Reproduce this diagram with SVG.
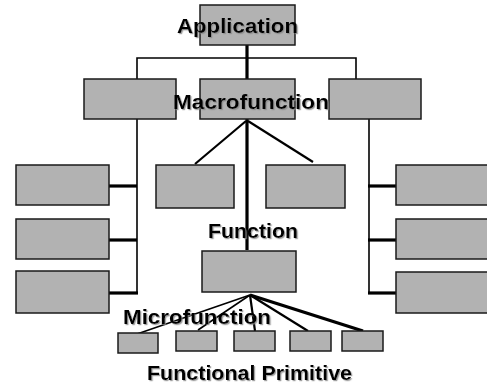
<svg xmlns="http://www.w3.org/2000/svg" width="487" height="385" viewBox="0 0 487 385">
<defs>
<filter id="sh" x="-10%" y="-30%" width="120%" height="160%">
<feDropShadow dx="1.2" dy="1.2" stdDeviation="0.6" flood-color="#888" flood-opacity="0.8"/>
</filter>
</defs>
<style>
rect{fill:#b2b2b2;stroke:#1a1a1a;stroke-width:1.5}
.thin{stroke:#000;stroke-width:1.6;fill:none}
.thick{stroke:#000;stroke-width:3.2;fill:none}
.med{stroke:#000;stroke-width:2.2;fill:none}
text{font-family:"Liberation Sans",Arial,sans-serif;font-weight:bold;font-size:21px;fill:#000;filter:url(#sh)}
</style>
<g id="connectors">
<line class="thick" x1="247" y1="45" x2="247" y2="79"/>
<polyline class="thin" points="137,79 137,58 356,58 356,79"/>
<line class="thin" x1="137" y1="119" x2="137" y2="293"/>
<line class="thin" x1="369" y1="119" x2="369" y2="293"/>
<line class="thick" x1="109" y1="186" x2="137" y2="186"/>
<line class="thick" x1="109" y1="240" x2="137" y2="240"/>
<line class="thick" x1="109" y1="293" x2="138" y2="293"/>
<line class="thick" x1="368" y1="186" x2="396" y2="186"/>
<line class="thick" x1="368" y1="240" x2="396" y2="240"/>
<line class="thick" x1="368" y1="293" x2="396" y2="293"/>
<line class="thick" x1="247" y1="119" x2="247" y2="250"/>
<line class="med" x1="246" y1="121" x2="195" y2="164"/>
<line class="med" x1="248" y1="121" x2="313" y2="162"/>
<line class="thin" x1="250" y1="295" x2="137" y2="334"/>
<line class="thin" x1="250" y1="295" x2="198" y2="330"/>
<line class="med" x1="250" y1="295" x2="255" y2="331"/>
<line class="med" x1="250" y1="295" x2="308" y2="331"/>
<line class="thick" x1="250" y1="295" x2="363" y2="331"/>
</g>
<g id="application"><rect x="200" y="5" width="95" height="40"/><text x="177" y="33" textLength="121" lengthAdjust="spacingAndGlyphs">Application</text></g>
<g id="macro-left"><rect x="84" y="79" width="92" height="40"/></g>
<g id="macro-mid"><rect x="200" y="79" width="95" height="40"/></g>
<g id="macro-right"><rect x="329" y="79" width="92" height="40"/></g>
<g id="left-1"><rect x="16" y="165" width="93" height="40"/></g>
<g id="left-2"><rect x="16" y="219" width="93" height="40"/></g>
<g id="left-3"><rect x="16" y="271" width="93" height="42"/></g>
<g id="right-1"><rect x="396" y="165" width="95" height="40"/></g>
<g id="right-2"><rect x="396" y="219" width="95" height="40"/></g>
<g id="right-3"><rect x="396" y="272" width="95" height="41"/></g>
<g id="func-left"><rect x="156" y="165" width="78" height="43"/></g>
<g id="func-right"><rect x="266" y="165" width="79" height="43"/></g>
<g id="function"><rect x="202" y="251" width="94" height="41"/></g>
<g id="prim-1"><rect x="118" y="333" width="40" height="20"/></g>
<g id="prim-2"><rect x="176" y="331" width="41" height="20"/></g>
<g id="prim-3"><rect x="234" y="331" width="41" height="20"/></g>
<g id="prim-4"><rect x="290" y="331" width="41" height="20"/></g>
<g id="prim-5"><rect x="342" y="331" width="41" height="20"/></g>
<g id="labels">
<text x="173" y="109" textLength="156" lengthAdjust="spacingAndGlyphs">Macrofunction</text>
<text x="208" y="238" textLength="90" lengthAdjust="spacingAndGlyphs">Function</text>
<text x="123" y="324" textLength="148" lengthAdjust="spacingAndGlyphs">Microfunction</text>
<text x="147" y="380" textLength="205" lengthAdjust="spacingAndGlyphs">Functional Primitive</text>
</g>
</svg>
